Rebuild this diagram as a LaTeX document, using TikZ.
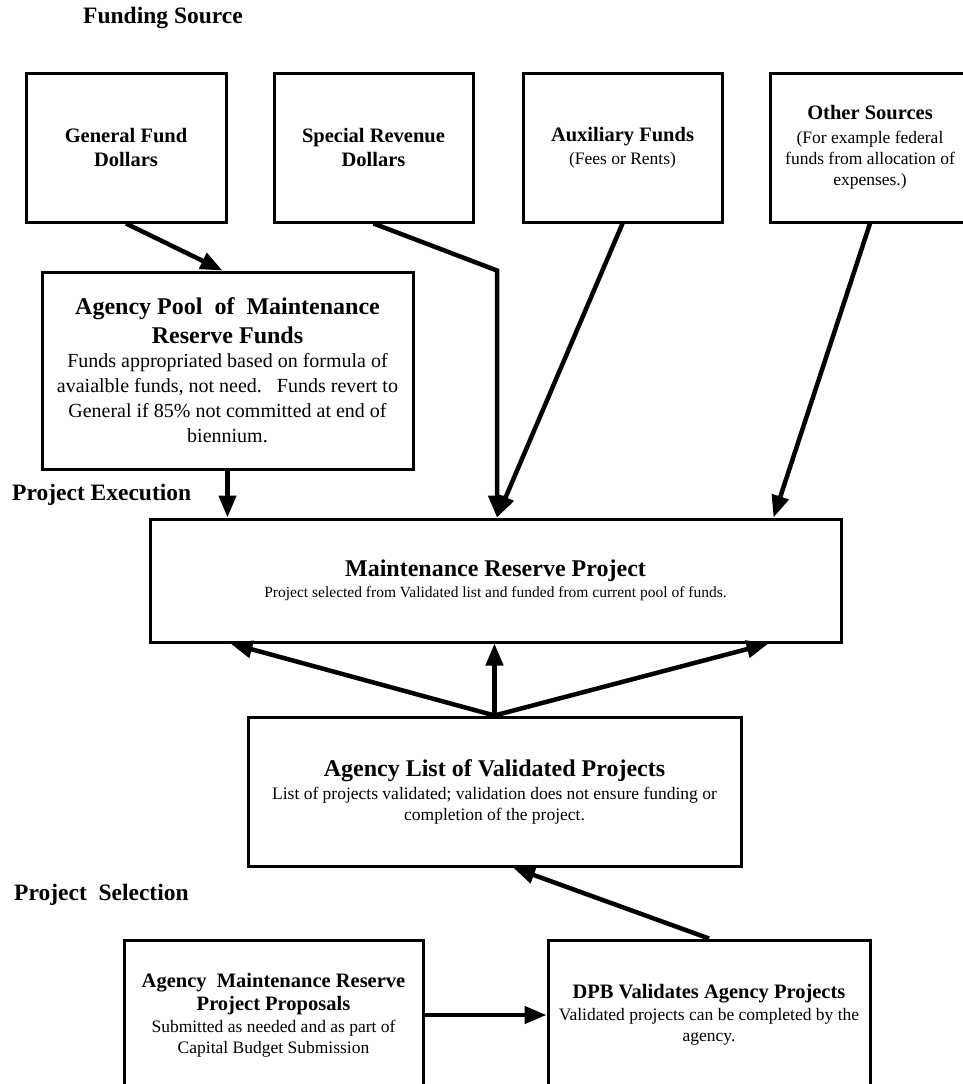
\documentclass[tikz,border=0pt]{standalone}
\usepackage{fontspec}
\setmainfont{Liberation Serif}
\usetikzlibrary{arrows.meta}
\newcommand\hdA{\fontsize{24}{29}\selectfont\bfseries}
\newcommand\hdB{\fontsize{20.5}{24}\selectfont\bfseries}
\newcommand\smtx{\fontsize{17.5}{21}\selectfont}
\newcommand\pbody{\fontsize{20}{25}\selectfont}
\newcommand\mtx{\fontsize{15.5}{19}\selectfont}
\begin{document}
\begin{tikzpicture}[x=1pt,y=-1pt,
  box/.style={draw, line width=3pt, inner sep=0pt, align=center},
  arr/.style={line width=4.5pt, -{Triangle[length=22pt,width=17pt]}},
  lbl/.style={inner sep=0pt, font=\fontsize{23.5}{28}\selectfont\bfseries}]
\useasboundingbox (0,0) rectangle (963,1084);
\clip (0,0) rectangle (963,1084);
% section labels
\node[lbl] (fs) at (163,18) {Funding Source};
\node[lbl, anchor=west] (pe) at (12,495) {Project Execution};
\node[lbl, anchor=west] (ps) at (14,895) {Project\ \ Selection};
% funding boxes
\node[box, minimum width=200pt, minimum height=149pt, font=\hdB] (gf) at (126,147.5)
  {General Fund\\Dollars};
\node[box, minimum width=199pt, minimum height=149pt, font=\hdB] (sr) at (373.5,147.5)
  {Special Revenue\\Dollars};
\node[box, minimum width=199pt, minimum height=149pt, font=\smtx] (aux) at (622.5,147.5)
  {{\hdB Auxiliary Funds}\\[2pt](Fees or Rents)};
\node[box, minimum width=200pt, minimum height=149pt, font=\smtx] (os) at (870,147.5)
  {{\hdB Other Sources}\\[3pt](For example federal\\funds from allocation of\\expenses.)};
% pool
\node[box, minimum width=371pt, minimum height=197pt, font=\pbody] (pool) at (227.5,370.5)
  {{\hdA Agency Pool\ \ of\ \ Maintenance}\\[4pt]{\hdA Reserve Funds}\\[-1pt]
   Funds appropriated based on formula of\\avaialble funds, not need.\ \ \ Funds revert to\\
   General if 85\% not committed at end of\\biennium.};
% maintenance reserve project
\node[box, minimum width=691pt, minimum height=123pt, font=\mtx] (mrp) at (495.5,580.5)
  {{\hdA Maintenance Reserve Project}\\[2pt]Project selected from Validated list and funded from current pool of funds.};
% agency list
\node[box, minimum width=493pt, minimum height=149pt, font=\smtx] (list) at (494.5,791.5)
  {{\hdA Agency List of Validated Projects}\\[2pt]List of projects validated; validation does not ensure funding or\\completion of the project.};
% bottom boxes
\node[box, minimum width=299pt, minimum height=150pt, font=\smtx] (prop) at (273.5,1015)
  {{\hdB Agency\ \ Maintenance Reserve}\\[2pt]{\hdB Project Proposals}\\[1pt]Submitted as needed and as part of\\Capital Budget Submission};
\node[box, minimum width=322pt, minimum height=150pt, font=\smtx] (dpb) at (709,1015)
  {{\hdB DPB Validates Agency Projects}\\[1pt]Validated projects can be completed by the\\agency.};
% connectors
\coordinate (bend) at (mrp.north |- pool.north);
\draw[arr] (gf.south) -- ([xshift=-5pt]pool.north);
\draw[arr] (sr.south) -- ([xshift=1.5pt]bend) -- ([xshift=1.5pt]mrp.north);
\draw[arr] (aux.south) -- ([xshift=1.5pt]mrp.north);
\draw[arr] (os.south) -- ([xshift=-69pt]mrp.north east);
\draw[arr] (pool.south) -- (pool.south |- mrp.north);
\draw[arr] (list.north) -- ([xshift=82pt]mrp.south west);
\draw[arr] (list.north) -- ([xshift=-1pt]mrp.south);
\draw[arr] (list.north) -- ([xshift=-74pt]mrp.south east);
\draw[arr] (dpb.north) -- ([xshift=18.5pt]list.south);
\draw[arr] (prop.east) -- (dpb.west);
\end{tikzpicture}
\end{document}
